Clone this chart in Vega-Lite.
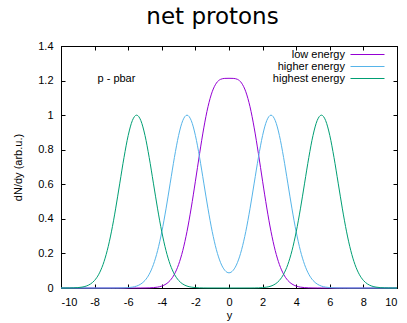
{
 "$schema": "https://vega.github.io/schema/vega-lite/v6.json",
 "width": 336,
 "height": 242,
 "autosize": {"type": "none"},
 "padding": {"left": 61, "top": 46, "right": 10, "bottom": 35},
 "background": "white",
 "title": {"text": "net protons", "font": "DejaVu Sans", "fontSize": 23, "fontWeight": "normal", "color": "black", "offset": 11, "dx": -16.5, "anchor": "middle"},
 "config": {
  "view": {"stroke": "black", "strokeWidth": 1},
  "axis": {"grid": false, "domainColor": "black", "tickColor": "black", "tickSize": -4, "labelFont": "Liberation Sans", "labelFontSize": 11, "labelColor": "black", "titleFont": "Liberation Sans", "titleFontSize": 11, "titleFontWeight": "normal", "titleColor": "black", "labelPadding": 12}
 },
 "datasets": {
  "curves": [
   {"s":"low energy","x":-10,"y":0},{"s":"low energy","x":-5.5,"y":0},{"s":"low energy","x":-5.25,"y":0.0001},{"s":"low energy","x":-5,"y":0.0003},{"s":"low energy","x":-4.75,"y":0.0009},{"s":"low energy","x":-4.5,"y":0.0022},{"s":"low energy","x":-4.25,"y":0.0051},{"s":"low energy","x":-4,"y":0.0111},{"s":"low energy","x":-3.75,"y":0.0228},{"s":"low energy","x":-3.5,"y":0.0439},{"s":"low energy","x":-3.25,"y":0.0797},{"s":"low energy","x":-3,"y":0.1356},{"s":"low energy","x":-2.75,"y":0.2172},{"s":"low energy","x":-2.5,"y":0.3269},{"s":"low energy","x":-2.25,"y":0.4629},{"s":"low energy","x":-2,"y":0.6176},{"s":"low energy","x":-1.75,"y":0.7776},{"s":"low energy","x":-1.5,"y":0.9264},{"s":"low energy","x":-1.25,"y":1.0488},{"s":"low energy","x":-1,"y":1.1353},{"s":"low energy","x":-0.75,"y":1.1855},{"s":"low energy","x":-0.5,"y":1.2072},{"s":"low energy","x":-0.25,"y":1.2126},{"s":"low energy","x":0,"y":1.2131},
   {"s":"low energy","x":0.25,"y":1.2126},{"s":"low energy","x":0.5,"y":1.2072},{"s":"low energy","x":0.75,"y":1.1855},{"s":"low energy","x":1,"y":1.1353},{"s":"low energy","x":1.25,"y":1.0488},{"s":"low energy","x":1.5,"y":0.9264},{"s":"low energy","x":1.75,"y":0.7776},{"s":"low energy","x":2,"y":0.6176},{"s":"low energy","x":2.25,"y":0.4629},{"s":"low energy","x":2.5,"y":0.3269},{"s":"low energy","x":2.75,"y":0.2172},{"s":"low energy","x":3,"y":0.1356},{"s":"low energy","x":3.25,"y":0.0797},{"s":"low energy","x":3.5,"y":0.0439},{"s":"low energy","x":3.75,"y":0.0228},{"s":"low energy","x":4,"y":0.0111},{"s":"low energy","x":4.25,"y":0.0051},{"s":"low energy","x":4.5,"y":0.0022},{"s":"low energy","x":4.75,"y":0.0009},{"s":"low energy","x":5,"y":0.0003},{"s":"low energy","x":5.25,"y":0.0001},{"s":"low energy","x":5.5,"y":0},{"s":"low energy","x":10,"y":0},
   {"s":"higher energy","x":-10,"y":0},{"s":"higher energy","x":-7,"y":0},{"s":"higher energy","x":-6.75,"y":0.0001},{"s":"higher energy","x":-6.5,"y":0.0003},{"s":"higher energy","x":-6.25,"y":0.0009},{"s":"higher energy","x":-6,"y":0.0022},{"s":"higher energy","x":-5.75,"y":0.0051},{"s":"higher energy","x":-5.5,"y":0.0111},{"s":"higher energy","x":-5.25,"y":0.0228},{"s":"higher energy","x":-5,"y":0.0439},{"s":"higher energy","x":-4.75,"y":0.0796},{"s":"higher energy","x":-4.5,"y":0.1353},{"s":"higher energy","x":-4.25,"y":0.2163},{"s":"higher energy","x":-4,"y":0.3247},{"s":"higher energy","x":-3.75,"y":0.4578},{"s":"higher energy","x":-3.5,"y":0.6065},{"s":"higher energy","x":-3.25,"y":0.7548},{"s":"higher energy","x":-3,"y":0.8825},{"s":"higher energy","x":-2.75,"y":0.9692},{"s":"higher energy","x":-2.5,"y":1},{"s":"higher energy","x":-2.25,"y":0.9692},{"s":"higher energy","x":-2,"y":0.8825},{"s":"higher energy","x":-1.75,"y":0.7549},{"s":"higher energy","x":-1.5,"y":0.6068},{"s":"higher energy","x":-1.25,"y":0.4587},{"s":"higher energy","x":-1,"y":0.3269},{"s":"higher energy","x":-0.75,"y":0.2214},{"s":"higher energy","x":-0.5,"y":0.1464},{"s":"higher energy","x":-0.25,"y":0.1024},{"s":"higher energy","x":0,"y":0.0878},
   {"s":"higher energy","x":0.25,"y":0.1024},{"s":"higher energy","x":0.5,"y":0.1464},{"s":"higher energy","x":0.75,"y":0.2214},{"s":"higher energy","x":1,"y":0.3269},{"s":"higher energy","x":1.25,"y":0.4587},{"s":"higher energy","x":1.5,"y":0.6068},{"s":"higher energy","x":1.75,"y":0.7549},{"s":"higher energy","x":2,"y":0.8825},{"s":"higher energy","x":2.25,"y":0.9692},{"s":"higher energy","x":2.5,"y":1},{"s":"higher energy","x":2.75,"y":0.9692},{"s":"higher energy","x":3,"y":0.8825},{"s":"higher energy","x":3.25,"y":0.7548},{"s":"higher energy","x":3.5,"y":0.6065},{"s":"higher energy","x":3.75,"y":0.4578},{"s":"higher energy","x":4,"y":0.3247},{"s":"higher energy","x":4.25,"y":0.2163},{"s":"higher energy","x":4.5,"y":0.1353},{"s":"higher energy","x":4.75,"y":0.0796},{"s":"higher energy","x":5,"y":0.0439},{"s":"higher energy","x":5.25,"y":0.0228},{"s":"higher energy","x":5.5,"y":0.0111},{"s":"higher energy","x":5.75,"y":0.0051},{"s":"higher energy","x":6,"y":0.0022},{"s":"higher energy","x":6.25,"y":0.0009},{"s":"higher energy","x":6.5,"y":0.0003},{"s":"higher energy","x":6.75,"y":0.0001},{"s":"higher energy","x":7,"y":0},{"s":"higher energy","x":10,"y":0},
   {"s":"highest energy","x":-10,"y":0},{"s":"highest energy","x":-9.75,"y":0.0001},{"s":"highest energy","x":-9.5,"y":0.0003},{"s":"highest energy","x":-9.25,"y":0.0009},{"s":"highest energy","x":-9,"y":0.0022},{"s":"highest energy","x":-8.75,"y":0.0051},{"s":"highest energy","x":-8.5,"y":0.0111},{"s":"highest energy","x":-8.25,"y":0.0228},{"s":"highest energy","x":-8,"y":0.0439},{"s":"highest energy","x":-7.75,"y":0.0796},{"s":"highest energy","x":-7.5,"y":0.1353},{"s":"highest energy","x":-7.25,"y":0.2163},{"s":"highest energy","x":-7,"y":0.3247},{"s":"highest energy","x":-6.75,"y":0.4578},{"s":"highest energy","x":-6.5,"y":0.6065},{"s":"highest energy","x":-6.25,"y":0.7548},{"s":"highest energy","x":-6,"y":0.8825},{"s":"highest energy","x":-5.75,"y":0.9692},{"s":"highest energy","x":-5.5,"y":1},{"s":"highest energy","x":-5.25,"y":0.9692},{"s":"highest energy","x":-5,"y":0.8825},{"s":"highest energy","x":-4.75,"y":0.7548},{"s":"highest energy","x":-4.5,"y":0.6065},{"s":"highest energy","x":-4.25,"y":0.4578},{"s":"highest energy","x":-4,"y":0.3247},{"s":"highest energy","x":-3.75,"y":0.2163},{"s":"highest energy","x":-3.5,"y":0.1353},{"s":"highest energy","x":-3.25,"y":0.0796},{"s":"highest energy","x":-3,"y":0.0439},{"s":"highest energy","x":-2.75,"y":0.0228},{"s":"highest energy","x":-2.5,"y":0.0111},{"s":"highest energy","x":-2.25,"y":0.0051},{"s":"highest energy","x":-2,"y":0.0022},{"s":"highest energy","x":-1.75,"y":0.0009},{"s":"highest energy","x":-1.5,"y":0.0003},{"s":"highest energy","x":-1.25,"y":0.0001},{"s":"highest energy","x":0,"y":0},
   {"s":"highest energy","x":1.25,"y":0.0001},{"s":"highest energy","x":1.5,"y":0.0003},{"s":"highest energy","x":1.75,"y":0.0009},{"s":"highest energy","x":2,"y":0.0022},{"s":"highest energy","x":2.25,"y":0.0051},{"s":"highest energy","x":2.5,"y":0.0111},{"s":"highest energy","x":2.75,"y":0.0228},{"s":"highest energy","x":3,"y":0.0439},{"s":"highest energy","x":3.25,"y":0.0796},{"s":"highest energy","x":3.5,"y":0.1353},{"s":"highest energy","x":3.75,"y":0.2163},{"s":"highest energy","x":4,"y":0.3247},{"s":"highest energy","x":4.25,"y":0.4578},{"s":"highest energy","x":4.5,"y":0.6065},{"s":"highest energy","x":4.75,"y":0.7548},{"s":"highest energy","x":5,"y":0.8825},{"s":"highest energy","x":5.25,"y":0.9692},{"s":"highest energy","x":5.5,"y":1},{"s":"highest energy","x":5.75,"y":0.9692},{"s":"highest energy","x":6,"y":0.8825},{"s":"highest energy","x":6.25,"y":0.7548},{"s":"highest energy","x":6.5,"y":0.6065},{"s":"highest energy","x":6.75,"y":0.4578},{"s":"highest energy","x":7,"y":0.3247},{"s":"highest energy","x":7.25,"y":0.2163},{"s":"highest energy","x":7.5,"y":0.1353},{"s":"highest energy","x":7.75,"y":0.0796},{"s":"highest energy","x":8,"y":0.0439},{"s":"highest energy","x":8.25,"y":0.0228},{"s":"highest energy","x":8.5,"y":0.0111},{"s":"highest energy","x":8.75,"y":0.0051},{"s":"highest energy","x":9,"y":0.0022},{"s":"highest energy","x":9.25,"y":0.0009},{"s":"highest energy","x":9.5,"y":0.0003},{"s":"highest energy","x":9.75,"y":0.0001},{"s":"highest energy","x":10,"y":0}
  ]
 },
 "layer": [
  {
   "data": {"name": "curves"},
   "mark": {"type": "line", "strokeWidth": 1, "interpolate": "monotone"},
   "encoding": {
    "x": {"field": "x", "type": "quantitative", "scale": {"domain": [-10, 10], "nice": false, "zero": false},
          "axis": {"values": [-10,-8,-6,-4,-2,0,2,4,6,8,10], "labelExpr": "replace(format(datum.value, '~g'), '−', '-')", "title": "y", "titlePadding": 2}},
    "y": {"field": "y", "type": "quantitative", "scale": {"domain": [0, 1.4], "nice": false},
          "axis": {"values": [0,0.2,0.4,0.6,0.8,1,1.2,1.4], "format": "~g", "title": "dN/dy (arb.u.)", "titlePadding": 14}},
    "color": {"field": "s", "type": "nominal",
              "scale": {"domain": ["low energy", "higher energy", "highest energy"], "range": ["#9400d3", "#56b4e9", "#009e73"]},
              "legend": {"orient": "none", "legendX": 301, "legendY": 3, "title": null, "labelAlign": "right", "labelOffset": -28,
                         "symbolType": "M-3.4,0H3.4", "symbolSize": 100, "symbolStrokeWidth": 1, "labelFont": "Liberation Sans", "labelFontSize": 11,
                         "labelColor": "black", "rowPadding": 0, "padding": 0}}
   }
  },
  {
   "data": {"values": [{"label": "p - pbar", "x": -6.7, "y": 1.21}]},
   "mark": {"type": "text", "font": "Liberation Sans", "fontSize": 11, "color": "black", "align": "center", "baseline": "middle"},
   "encoding": {
    "x": {"field": "x", "type": "quantitative", "axis": null},
    "y": {"field": "y", "type": "quantitative", "axis": null},
    "text": {"field": "label"}
   }
  },
  {
   "data": {"name": "curves"},
   "mark": {"type": "line", "opacity": 0},
   "encoding": {
    "x": {"field": "x", "type": "quantitative", "axis": {"orient": "top", "labels": false, "title": null, "values": [-10,-8,-6,-4,-2,0,2,4,6,8,10]}},
    "y": {"field": "y", "type": "quantitative", "axis": {"orient": "right", "labels": false, "title": null, "values": [0,0.2,0.4,0.6,0.8,1,1.2,1.4]}},
    "detail": {"field": "s"}
   }
  }
 ],
 "resolve": {"axis": {"x": "independent", "y": "independent"}}
}
